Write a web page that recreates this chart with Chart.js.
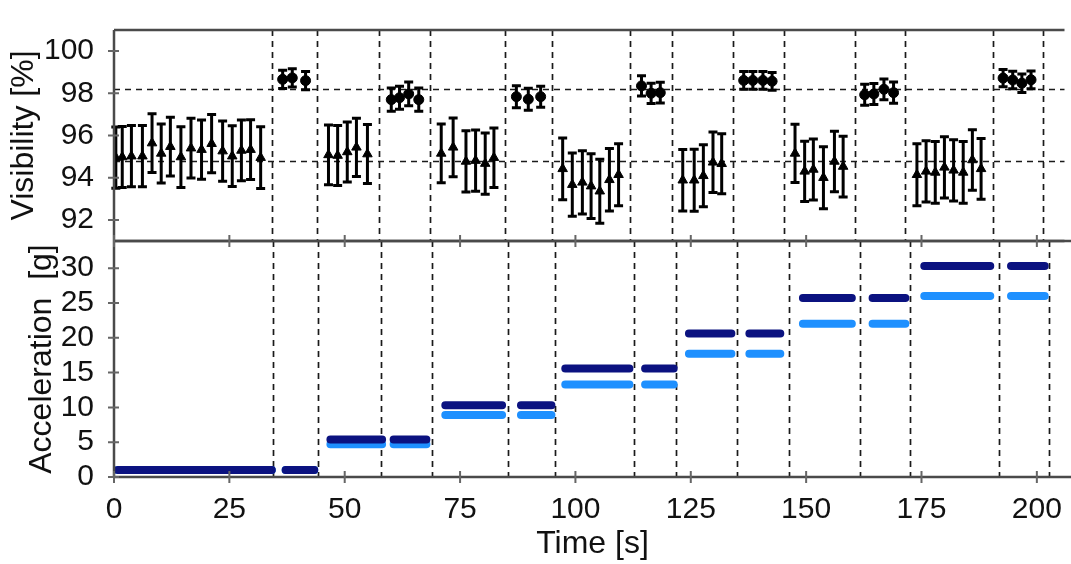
<!DOCTYPE html>
<html><head><meta charset="utf-8">
<script src="https://cdn.jsdelivr.net/npm/chart.js@4"></script>
<style>
html,body{margin:0;padding:0;background:#fff;}
#wrap{position:relative;width:1071px;height:564px;overflow:hidden;background:#fff;}
canvas{position:absolute;left:0;top:0;}
</style></head><body>
<div id="wrap"><canvas id="cTop" width="1071" height="564"></canvas><canvas id="cBot" width="1071" height="564"></canvas></div>
<script>
// ---------- data ----------
const timeTicks = [0, 25, 50, 75, 100, 125, 150, 175, 200];
const visTicks = [92, 94, 96, 98, 100];
const accTicks = [0, 5, 10, 15, 20, 25, 30];
const boundaries = [34.4, 44.3, 57.9, 68.9, 85.4, 95.6, 112.7, 121.8, 135.1, 146.2, 161.6, 172.6, 191.8, 202.7];
const visRefLines = [98.2, 94.8];

// visibility under vibration (triangles)
const triX = [0.4, 1.8, 3.8, 6.2, 8.3, 10.3, 12.3, 14.6, 16.8, 19.1, 21.3, 23.7, 25.8, 27.8, 29.8, 32.0,
  46.8, 48.8, 50.9, 52.9, 55.3,
  71.4, 74.0, 76.8, 78.9, 81.0, 82.9,
  97.9, 100.0, 102.2, 104.1, 106.0, 108.1, 110.1,
  124.1, 126.6, 128.6, 130.7, 132.6,
  148.6, 150.7, 152.6, 154.8, 157.2, 159.1,
  175.2, 177.2, 179.2, 181.2, 183.2, 185.3, 187.3, 189.2];
const triY = [94.95, 94.98, 95.02, 95.02, 95.64, 95.15, 95.47, 94.98, 95.4, 95.33, 95.61, 95.26, 95.02, 95.29, 95.33, 94.95,
  95.08, 95.05, 95.22, 95.44, 95.12,
  95.15, 95.44, 94.77, 94.81, 94.67, 94.95,
  94.42, 93.67, 93.78, 93.6, 93.36, 93.9, 94.14,
  93.88, 93.88, 94.09, 94.73, 94.66,
  95.15, 94.3, 94.39, 94.0, 94.77, 94.53,
  94.14, 94.3, 94.25, 94.49, 94.35, 94.25, 94.84, 94.42];
const triErr = [1.45, 1.45, 1.45, 1.45, 1.39, 1.4, 1.39, 1.44, 1.42, 1.4, 1.38, 1.43, 1.44, 1.44, 1.42, 1.46,
  1.42, 1.42, 1.42, 1.38, 1.4,
  1.39, 1.39, 1.45, 1.45, 1.45, 1.41,
  1.46, 1.5, 1.5, 1.53, 1.52, 1.48, 1.47,
  1.46, 1.47, 1.47, 1.43, 1.42,
  1.38, 1.43, 1.45, 1.47, 1.43, 1.44,
  1.47, 1.45, 1.46, 1.45, 1.45, 1.46, 1.43, 1.44];

// visibility at rest (circles)
const cirX = [36.8, 38.9, 41.8,
  60.5, 62.3, 64.3, 66.5,
  87.8, 90.4, 93.1,
  115.1, 117.2, 119.2,
  137.4, 139.4, 141.6, 143.6,
  163.8, 165.8, 168.0, 170.1,
  194.0, 196.1, 198.1, 200.1];
const cirY = [98.66, 98.73, 98.6,
  97.7, 97.79, 97.97, 97.7,
  97.84, 97.72, 97.84,
  98.35, 98.0, 98.03,
  98.61, 98.61, 98.61, 98.57,
  97.93, 97.97, 98.19, 98.03,
  98.72, 98.63, 98.48, 98.64];
const cirErr = [0.43, 0.43, 0.43,
  0.55, 0.54, 0.56, 0.55,
  0.52, 0.52, 0.5,
  0.48, 0.48, 0.49,
  0.42, 0.42, 0.42, 0.42,
  0.5, 0.5, 0.49, 0.5,
  0.41, 0.41, 0.44, 0.42];

// acceleration segments
const segStart = [0.8, 37.2, 46.9, 60.6, 71.8, 88.2, 97.8, 115.1, 124.6, 137.7, 149.3, 164.4, 175.6, 194.4];
const segEnd   = [34.2, 43.4, 58.1, 67.7, 84.1, 94.8, 111.7, 121.3, 133.8, 144.4, 159.9, 171.5, 189.9, 201.7];
const accDark  = [1.0, 1.0, 5.4, 5.4, 10.3, 10.3, 15.6, 15.6, 20.6, 20.6, 25.7, 25.7, 30.3, 30.3];
const accLight = [1.0, 1.0, 4.7, 4.7, 8.9, 8.9, 13.3, 13.3, 17.7, 17.7, 22.0, 22.0, 26.0, 26.0];

// ---------- styling / helpers ----------
const X_MAX = 207.4;
const FONT = "'Liberation Sans', Arial, sans-serif";
Chart.defaults.font.family = FONT;
Chart.defaults.color = '#111';

function segLine(vals) {
  const out = [];
  segStart.forEach((s, i) => {
    out.push({x: s, y: vals[i]}, {x: segEnd[i], y: vals[i]}, {x: segEnd[i], y: null});
  });
  return out;
}

function framePlugin(opts) {
  return {
    id: 'frame' + opts.name,
    beforeDatasetsDraw(chart) {
      const {ctx, chartArea: a, scales} = chart;
      ctx.save();
      ctx.strokeStyle = '#1a1a1a';
      ctx.lineWidth = 1.7;
      ctx.setLineDash([6, 5]);
      boundaries.forEach(b => {
        const px = Math.round(scales.x.getPixelForValue(b)) + 0.5;
        ctx.beginPath(); ctx.moveTo(px, a.top); ctx.lineTo(px, a.bottom); ctx.stroke();
      });
      (opts.refLines || []).forEach(v => {
        const py = Math.round(scales.y.getPixelForValue(v)) + 0.5;
        ctx.beginPath(); ctx.moveTo(a.left, py); ctx.lineTo(a.right, py); ctx.stroke();
      });
      ctx.setLineDash([]);
      // error bars
      ctx.strokeStyle = '#000';
      ctx.lineWidth = 3;
      chart.data.datasets.forEach(ds => {
        if (!ds.err) return;
        ds.data.forEach((p, i) => {
          const px = scales.x.getPixelForValue(p.x);
          const y0 = scales.y.getPixelForValue(p.y - ds.err[i]);
          const y1 = scales.y.getPixelForValue(p.y + ds.err[i]);
          ctx.beginPath();
          ctx.moveTo(px, y0); ctx.lineTo(px, y1);
          ctx.moveTo(px - 4.5, y0); ctx.lineTo(px + 4.5, y0);
          ctx.moveTo(px - 4.5, y1); ctx.lineTo(px + 4.5, y1);
          ctx.stroke();
        });
      });
      ctx.restore();
    },
    afterDraw(chart) {
      const {ctx, chartArea: a, scales} = chart;
      ctx.save();
      ctx.strokeStyle = '#4a4a4a';
      ctx.lineWidth = 2.5;
      ctx.beginPath();
      ctx.moveTo(a.left, a.top); ctx.lineTo(a.left, a.bottom);
      ctx.moveTo(a.left, a.top); ctx.lineTo(a.right, a.top);
      ctx.moveTo(a.left, a.bottom); ctx.lineTo(a.right, a.bottom);
      ctx.stroke();
      ctx.lineWidth = 2;
      ctx.strokeStyle = '#666';
      ctx.beginPath();
      scales.y.ticks.forEach(t => {
        const py = scales.y.getPixelForValue(t.value);
        ctx.moveTo(a.left - 6, py); ctx.lineTo(a.left + 5, py);
      });
      if (opts.xTicks) {
        timeTicks.forEach(v => {
          const px = scales.x.getPixelForValue(v);
          ctx.moveTo(px, a.top - 6); ctx.lineTo(px, a.top + 6);
          ctx.moveTo(px, a.bottom - 6); ctx.lineTo(px, a.bottom + 6);
        });
      }
      ctx.stroke();
      ctx.restore();
    }
  };
}

const common = {
  responsive: false,
  animation: false,
  devicePixelRatio: 1,
  events: [],
  plugins: {legend: {display: false}, tooltip: {enabled: false}}
};

// ---------- top chart: visibility ----------
new Chart(document.getElementById('cTop'), {
  type: 'scatter',
  data: {
    datasets: [
      {data: triX.map((x, i) => ({x, y: triY[i]})), err: triErr, pointStyle: 'triangle', pointRadius: 5.5,
       backgroundColor: '#000', borderColor: '#000', borderWidth: 1},
      {data: cirX.map((x, i) => ({x, y: cirY[i]})), err: cirErr, pointStyle: 'circle', pointRadius: 5,
       backgroundColor: '#000', borderColor: '#000', borderWidth: 1}
    ]
  },
  options: Object.assign({}, common, {
    layout: {padding: {left: 0, right: 0, top: 4, bottom: 564 - 241}},
    scales: {
      x: {type: 'linear', min: 0, max: X_MAX, display: false},
      y: {
        type: 'linear', min: 91, max: 101,
        afterBuildTicks: s => { s.ticks = visTicks.map(v => ({value: v})); },
        afterFit: s => { s.width = 114; },
        grid: {display: false}, border: {display: false},
        ticks: {padding: 12, font: {size: 30}, color: '#111', autoSkip: false},
        title: {display: true, text: 'Visibility [%]', font: {size: 32}, color: '#111', padding: {top: 5, bottom: 0}}
      }
    }
  }),
  plugins: [framePlugin({name: 'Top', refLines: visRefLines, xTicks: false})]
});

// ---------- bottom chart: acceleration ----------
new Chart(document.getElementById('cBot'), {
  type: 'line',
  data: {
    datasets: [
      {data: segLine(accDark), borderColor: '#0b1280', borderWidth: 8, borderCapStyle: 'round',
       pointRadius: 0, spanGaps: false, fill: false},
      {data: segLine(accLight), borderColor: '#1e90ff', borderWidth: 8, borderCapStyle: 'round',
       pointRadius: 0, spanGaps: false, fill: false}
    ]
  },
  options: Object.assign({}, common, {
    layout: {padding: {left: 0, right: 0, top: 241, bottom: 0}},
    scales: {
      x: {
        type: 'linear', min: 0, max: X_MAX,
        afterBuildTicks: s => { s.ticks = timeTicks.map(v => ({value: v})); },
        afterFit: s => { s.height = 87; },
        grid: {display: false}, border: {display: false},
        ticks: {padding: 7, font: {size: 30}, color: '#111', maxRotation: 0, autoSkip: false},
        title: {display: true, text: 'Time [s]', font: {size: 32}, color: '#111', padding: {top: 0, bottom: 1}}
      },
      y: {
        type: 'linear', min: 0, max: 33.9,
        afterBuildTicks: s => { s.ticks = accTicks.map(v => ({value: v})); },
        afterFit: s => { s.width = 114; },
        grid: {display: false}, border: {display: false},
        ticks: {padding: 12, font: {size: 30}, color: '#111', autoSkip: false},
        title: {display: true, text: 'Acceleration  [g]', font: {size: 32}, color: '#111', padding: {top: 23, bottom: 0}}
      }
    }
  }),
  plugins: [framePlugin({name: 'Bot', xTicks: true})]
});
</script>
</body></html>
